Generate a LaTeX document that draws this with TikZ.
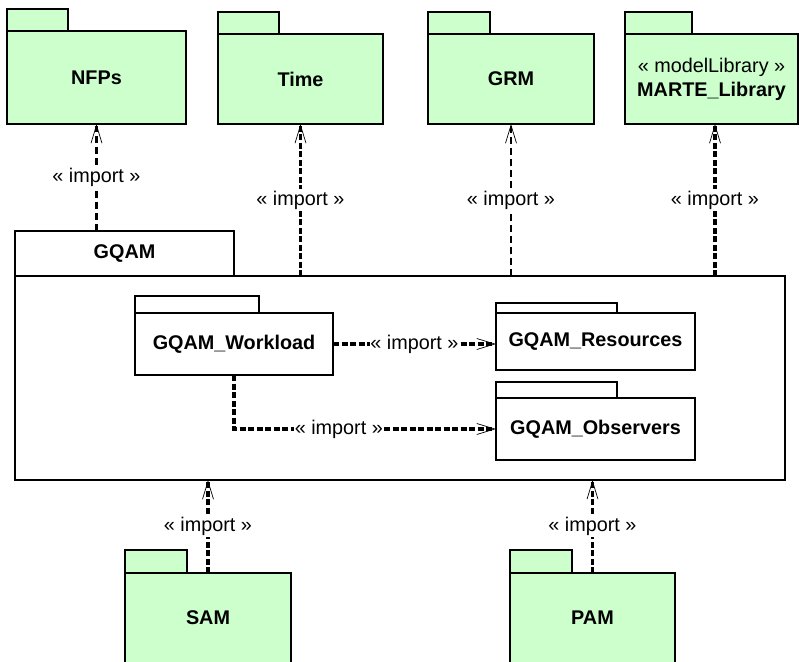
\documentclass[tikz,border=0pt]{standalone}
\usepackage{fontspec}
\setmainfont{Liberation Sans}
\usetikzlibrary{arrows.meta}
\definecolor{pkggreen}{HTML}{CCFFCC}
\begin{document}
\begin{tikzpicture}[x=1pt,y=-1pt,
  pkgbody/.style={draw=black, line width=1.1pt, anchor=north west, inner sep=0pt, outer sep=0pt,
    font=\fontsize{19.8}{24}\selectfont\bfseries, align=center},
  pkgtab/.style={draw=black, line width=1.1pt, anchor=south west, inner sep=0pt, outer sep=0pt,
    font=\fontsize{19.8}{24}\selectfont\bfseries},
  greenpkg/.style={fill=pkggreen},
  whitepkg/.style={fill=white},
  impthick/.style={line width=3.8pt, dash pattern=on 6pt off 2.5pt,
    -{Straight Barb[length=18pt,width=11pt,line width=0.7pt]}},
  impthin/.style={line width=2.4pt, dash pattern=on 7pt off 4pt,
    -{Straight Barb[length=18pt,width=11pt,line width=0.7pt]}},
  implabel/.style={fill=white, inner sep=1.5pt, font=\fontsize{19.8}{22}\selectfont}
]
\useasboundingbox (0,0) rectangle (799,661);

% top packages
\node[pkgbody, greenpkg, minimum width=179pt, minimum height=93pt] (nfps) at (7,31) {NFPs};
\node[pkgtab, greenpkg, minimum width=61pt, minimum height=22pt] (nfpstab) at (nfps.north west) {};
\node[pkgbody, greenpkg, minimum width=165pt, minimum height=90pt] (time) at (218,34) {Time};
\node[pkgtab, greenpkg, minimum width=61pt, minimum height=22pt] (timetab) at (time.north west) {};
\node[pkgbody, greenpkg, minimum width=166pt, minimum height=90pt] (grm) at (428,34) {GRM};
\node[pkgtab, greenpkg, minimum width=62pt, minimum height=22pt] (grmtab) at (grm.north west) {};
\node[pkgbody, greenpkg, minimum width=173pt, minimum height=90pt] (marte) at (625,34)
  {{\mdseries « modelLibrary »}\\MARTE\_Library};
\node[pkgtab, greenpkg, minimum width=67pt, minimum height=22pt] (martetab) at (marte.north west) {};

% GQAM container
\node[pkgbody, whitepkg, minimum width=770pt, minimum height=204pt] (gqam) at (15,276) {};
\node[pkgtab, whitepkg, minimum width=219pt, minimum height=45pt] (gqamtab) at (gqam.north west) {GQAM};

% inner packages
\node[pkgbody, whitepkg, minimum width=198pt, minimum height=62pt] (workload) at (135,313) {GQAM\_Workload};
\node[pkgtab, whitepkg, minimum width=124pt, minimum height=17pt] (workloadtab) at (workload.north west) {};
\node[pkgbody, whitepkg, minimum width=199pt, minimum height=57pt] (resources) at (496,313) {GQAM\_Resources};
\node[pkgtab, whitepkg, minimum width=121pt, minimum height=10pt] (resourcestab) at (resources.north west) {};
\node[pkgbody, whitepkg, minimum width=199pt, minimum height=62pt] (observers) at (496,398) {GQAM\_Observers};
\node[pkgtab, whitepkg, minimum width=121pt, minimum height=16pt] (observerstab) at (observers.north west) {};

% bottom packages
\node[pkgbody, greenpkg, minimum width=166pt, minimum height=90pt] (sam) at (125,573) {SAM};
\node[pkgtab, greenpkg, minimum width=62pt, minimum height=23pt] (samtab) at (sam.north west) {};
\node[pkgbody, greenpkg, minimum width=165pt, minimum height=90pt] (pam) at (510,573) {PAM};
\node[pkgtab, greenpkg, minimum width=62pt, minimum height=23pt] (pamtab) at (pam.north west) {};

% import dependencies
\coordinate (marteend) at ([xshift=3.5pt]marte.south);
\draw[impthin] (gqamtab.north -| nfps.south) -- node[implabel] {« import »} (nfps.south);
\draw[impthick] (gqam.north -| time.south) -- node[implabel] {« import »} (time.south);
\draw[impthin] (gqam.north -| grm.south) -- node[implabel] {« import »} (grm.south);
\draw[impthick] (gqam.north -| marteend) -- node[implabel] {« import »} (marteend);

\draw[impthick] (workload.east) -- node[implabel, inner sep=0.5pt] {« import »} (workload.east -| resources.west);
\draw[impthick] (workload.south) |- node[implabel, inner sep=0.5pt, pos=0.7] {« import »} (observers.west);

\draw[impthick] (sam.north) -- node[implabel] {« import »} (sam.north |- gqam.south);
\draw[impthick] (pam.north) -- node[implabel] {« import »} (pam.north |- gqam.south);
\end{tikzpicture}
\end{document}
